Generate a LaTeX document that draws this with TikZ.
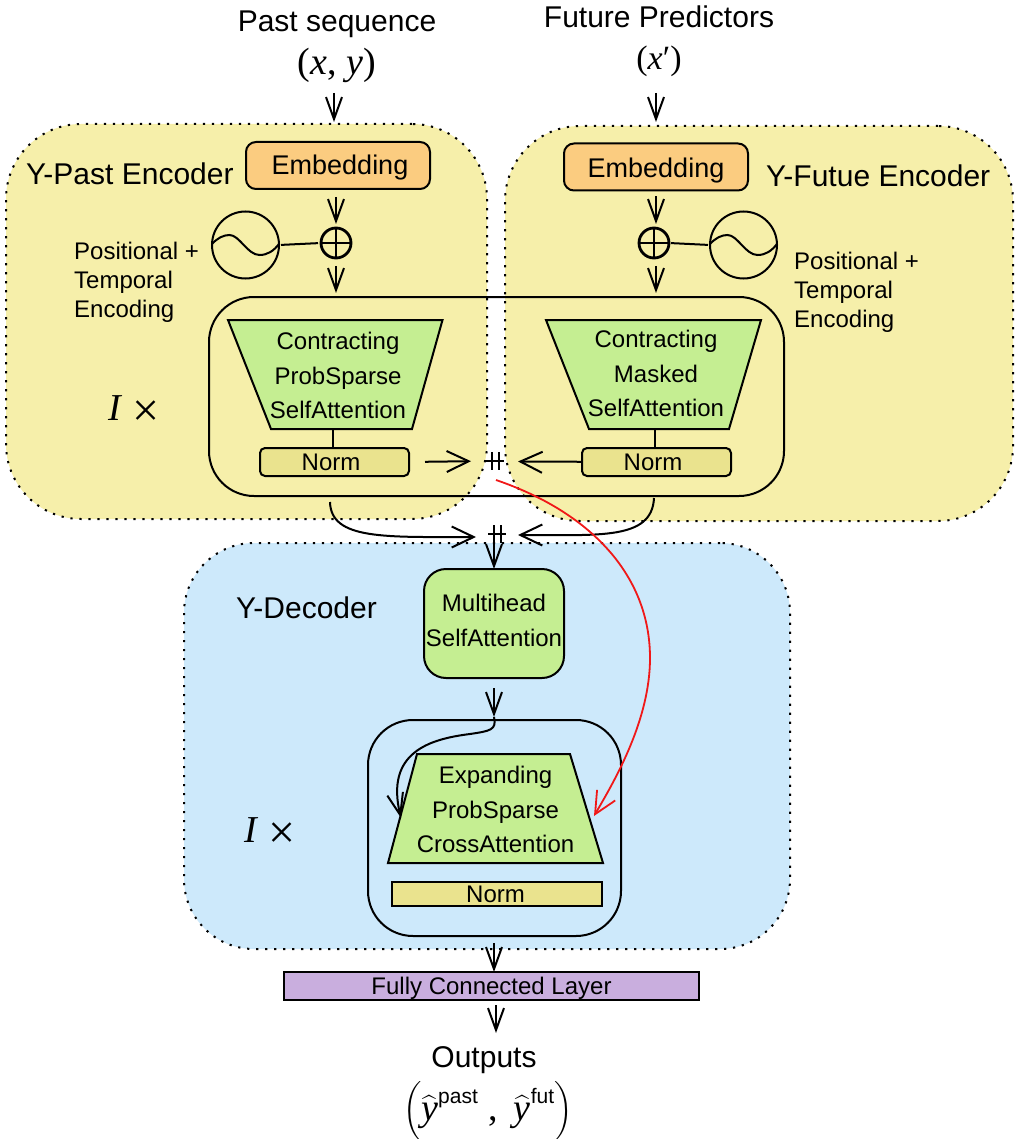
\RequirePackage{fix-cm}
\documentclass[tikz,border=0pt]{standalone}
\usepackage{amsmath}
\usepackage{fontspec}
\setmainfont{Liberation Sans}
\newfontfamily\mif{Liberation Serif}
\usetikzlibrary{arrows.meta,calc}
\definecolor{encY}{HTML}{F6EFAA}
\definecolor{decB}{HTML}{CDE9FB}
\definecolor{greenF}{HTML}{C5EE92}
\definecolor{orangeF}{HTML}{FBCC80}
\definecolor{normF}{HTML}{EAE38E}
\definecolor{purpF}{HTML}{C9AEDE}
\definecolor{redL}{HTML}{F01818}
\newcommand{\fsz}[2]{\fontsize{#1}{#2}\selectfont}
\newcommand{\miv}[1]{{\mif\itshape #1}}
\tikzset{
  base/.style={inner sep=0pt,outer sep=0pt,line width=2pt},
  panel/.style={base,draw,dash pattern=on 2.2pt off 6.8pt,anchor=north west,rounded corners=#1},
  frame/.style={base,draw,anchor=north west,rounded corners=45pt},
  embox/.style={base,draw,fill=orangeF,rounded corners=10pt,minimum width=184pt,minimum height=47pt},
  embtext/.style={inner sep=0pt,font=\fsz{27}{32}},
  normbox/.style={base,draw,fill=normF,rounded corners=5pt,minimum width=149pt,minimum height=28pt,font=\fsz{24}{28}},
  txt/.style={inner sep=0pt,font=\fsz{24}{29},align=left},
  ttl/.style={inner sep=0pt,font=\fsz{30}{34}},
  three/.style={inner sep=0pt,font=\fsz{24}{34.5},align=center},
  wave/.style={base,draw,circle,minimum size=67pt},
  plussign/.style={base,line width=2.8pt,draw,circle,minimum size=30pt,
    path picture={\draw[line width=2.4pt] (path picture bounding box.north)--(path picture bounding box.south)
      (path picture bounding box.west)--(path picture bounding box.east);}},
  catsign/.style={inner sep=0pt,outer sep=0pt,minimum size=18pt,
    path picture={\draw[line width=2pt] (path picture bounding box.center)
      +(-3.5,-9)--+(-3.5,9) +(3.5,-9)--+(3.5,9) +(-9,0)--+(9,0);}},
  trap/.style={line width=2pt,draw,fill=greenF},
  arr/.style={line width=2pt,-{Straight Barb[length=22pt,width=16pt,line width=2pt]}},
  arrw/.style={line width=2pt,-{Straight Barb[length=22pt,width=21pt,line width=2pt]}},
  conn/.style={line width=2pt},
}
\newcommand{\sine}[1]{\begin{scope}[shift={(#1.center)}]\draw[line width=2pt] (-33.5,-1) .. controls (-28,-7) and (-22,-10) .. (-16,-10) .. controls (-6,-10) and (2,10) .. (14,10) .. controls (22,10) and (28,6) .. (33.5,-1);\end{scope}}
\begin{document}
\begin{tikzpicture}[x=1pt,y=-1pt]
\useasboundingbox (0,0) rectangle (1019,1139);
% panels
\node[panel=75pt,fill=encY,minimum width=481pt,minimum height=395pt] (pastEnc) at (6,124) {};
\node[panel=75pt,fill=encY,minimum width=508pt,minimum height=395pt] (futEnc) at (505,126) {};
\node[panel=70pt,fill=decB,minimum width=606pt,minimum height=406pt] (decPanel) at (184,543) {};
\node[frame,minimum width=575pt,minimum height=199pt] (encFrame) at (209,297) {};
\node[frame,minimum width=253pt,minimum height=216pt] (decFrame) at (368,720) {};
% top labels
\node[ttl] (pastT) at (337,24) {Past sequence};
\node[inner sep=0pt] (pastM) at (337,65) {\fsz{38}{42}\mif(\miv{x},\ \miv{y})};
\node[ttl] (futT) at (659,17) {Future Predictors};
\node[inner sep=0pt] (futM) at (659,61) {\fsz{34}{38}\mif(\miv{x}′)};
% panel titles
\node[ttl,anchor=west] (pastTitle) at (26,174) {Y-Past Encoder};
\node[ttl,anchor=west] (futTitle) at (766,176) {Y-Futue Encoder};
\node[ttl,anchor=west] (decTitle) at (236,608) {Y-Decoder};
% embeddings
\node[embox] (embL) at (338,165.5) {};
\node[embox] (embR) at (656,167) {};
\node[embtext] (embLt) at (340,168) {Embedding};
\node[embtext] (embRt) at (656,171) {Embedding};
% waves and plus
\node[wave] (sinL) at (245.5,245) {};
\node[wave] (sinR) at (743.5,245) {};
\sine{sinL}
\sine{sinR}
\node[plussign] (plusL) at (336,243) {};
\node[plussign] (plusR) at (654,243) {};
\node[txt,anchor=north west] (posL) at (74,242) {Positional +\\Temporal\\Encoding};
\node[txt,anchor=north west] (posR) at (794,252) {Positional +\\Temporal\\Encoding};
% trapezoids
\draw[trap] (228,320) -- (442.5,320) -- (412,429) -- (271,429) -- cycle;
\draw[trap] (546,320) -- (761,320) -- (729,429) -- (589,429) -- cycle;
\draw[trap] (417,754) -- (570,754) -- (603,863) -- (388,863) -- cycle;
\node[three] (trapLt) at (338,375.5) {Contracting\\ProbSparse\\SelfAttention};
\node[three] (trapRt) at (656,373.5) {Contracting\\Masked\\SelfAttention};
\node[three] (trapDt) at (495.5,809.5) {Expanding\\ProbSparse\\CrossAttention};
% norms
\node[normbox] (normL) at (334.5,462) {\hspace*{-7pt}Norm};
\node[normbox] (normR) at (656.5,462) {\hspace*{-7pt}Norm};
\node[normbox,rounded corners=0pt,minimum width=210pt,minimum height=24pt] (normD) at (497,894) {\hspace*{-3pt}Norm};
\coordinate (tbL) at (333,429);
\coordinate (tbR) at (655,429);
\draw[conn] (tbL) -- (tbL |- normL.north);
\draw[conn] (tbR) -- (tbR |- normR.north);
\node[inner sep=0pt] (ixL) at (134,408) {\fsz{38}{42}\miv{I}\hspace{11pt}\raisebox{-6pt}[0pt][0pt]{\fsz{48}{42}\mif ×}};
\node[inner sep=0pt] (ixD) at (270,830) {\fsz{38}{42}\miv{I}\hspace{11pt}\raisebox{-6pt}[0pt][0pt]{\fsz{48}{42}\mif ×}};
% concat
\node[catsign] (cat1) at (495,461) {};
\node[catsign] (cat2) at (497,534) {};
% multihead
\node[base,draw,fill=greenF,rounded corners=22pt,minimum width=140pt,minimum height=109pt] (mh) at (494,623.5) {};
\node[three] (mhT) at (494,620.5) {Multihead\\SelfAttention};
% FC + outputs
\node[base,draw,fill=purpF,minimum width=415pt,minimum height=28pt] (fc) at (491.5,986) {};
\node[inner sep=0pt,font=\fsz{24}{28}] (fcT) at (491.5,988.5) {Fully Connected Layer};
\node[ttl] (outT) at (484,1060) {Outputs};
\node[inner sep=0pt] (outM) at (488,1111) {\fsz{38}{42}$\left(\vrule height 34pt depth 16pt width 0pt\widehat{\mbox{\miv{y}}}^{\mbox{\fsz{21}{21}\raisebox{3pt}{past}}}\hspace{10pt}\mbox{\mif ,}\hspace{16pt}\widehat{\mbox{\miv{y}}}^{\mbox{\fsz{21}{21}\raisebox{3pt}{fut}}}\right)$};
% connectors
\coordinate (a1) at (334,93); \coordinate (a1e) at (334,122);
\coordinate (a2) at (656,93); \coordinate (a2e) at (656,122);
\draw[arr] (a1) -- (a1e);
\draw[arr] (a2) -- (a2e);
\draw[arr,shorten <=8pt,shorten >=4pt] (plusL |- embL.south) -- (plusL.north);
\draw[arr,shorten <=6pt,shorten >=4pt] (embR.south) -- (embR.south |- plusR.north);
\draw[arr,shorten <=8pt,shorten >=4pt] (plusL.south) -- (plusL |- encFrame.north);
\coordinate (pRd) at (656,258);
\draw[arr,shorten <=8pt,shorten >=4pt] (pRd) -- (pRd |- encFrame.north);
\draw[conn,shorten <=2pt,shorten >=3pt] (sinL.east) -- (plusL.west);
\draw[conn,shorten <=2pt,shorten >=2pt] (plusR.east) -- (sinR.west);
\draw[arrw,shorten <=16pt,shorten >=15pt] (normL.east) -- (cat1.west);
\draw[arrw,shorten >=14pt] (normR.west) .. controls +(-14,-1) and +(30,1) .. (cat1.east);
\coordinate (cvL) at (330,502); \coordinate (cvLe) at (476,537);
\coordinate (cvR) at (654,498); \coordinate (cvRe) at (518,535);
\draw[arrw] (cvL) .. controls (331,540) and (385,537) .. (cvLe);
\draw[arrw] (cvR) .. controls (652,540) and (600,535) .. (cvRe);
\draw[arr] (cat2.center) ++(-3,0) -- (mh.north);
\coordinate (a3) at (494,688); \coordinate (a3e) at (494,717);
\draw[arr] (a3) -- (a3e);
\coordinate (dcv) at (401,818);
\draw[arr] (a3e) .. controls (497,730) and (490,731) .. (470,734) .. controls (430,739) and (385,752) .. (dcv);
\coordinate (rs) at (496,480); \coordinate (rm) at (650,658); \coordinate (re) at (594,816);
\draw[line width=1.8pt,redL,-{Straight Barb[length=22pt,width=21pt,line width=1.8pt]}] (rs) .. controls (590,512) and (650,575) .. (rm) .. controls (650,720) and (615,780) .. (re);
\coordinate (a4) at (494,943);
\draw[arr] (a4) -- (a4 |- fc.north);
\coordinate (a5) at (496,1005); \coordinate (a5e) at (496,1033);
\draw[arr] (a5) -- (a5e);
\end{tikzpicture}
\end{document}
